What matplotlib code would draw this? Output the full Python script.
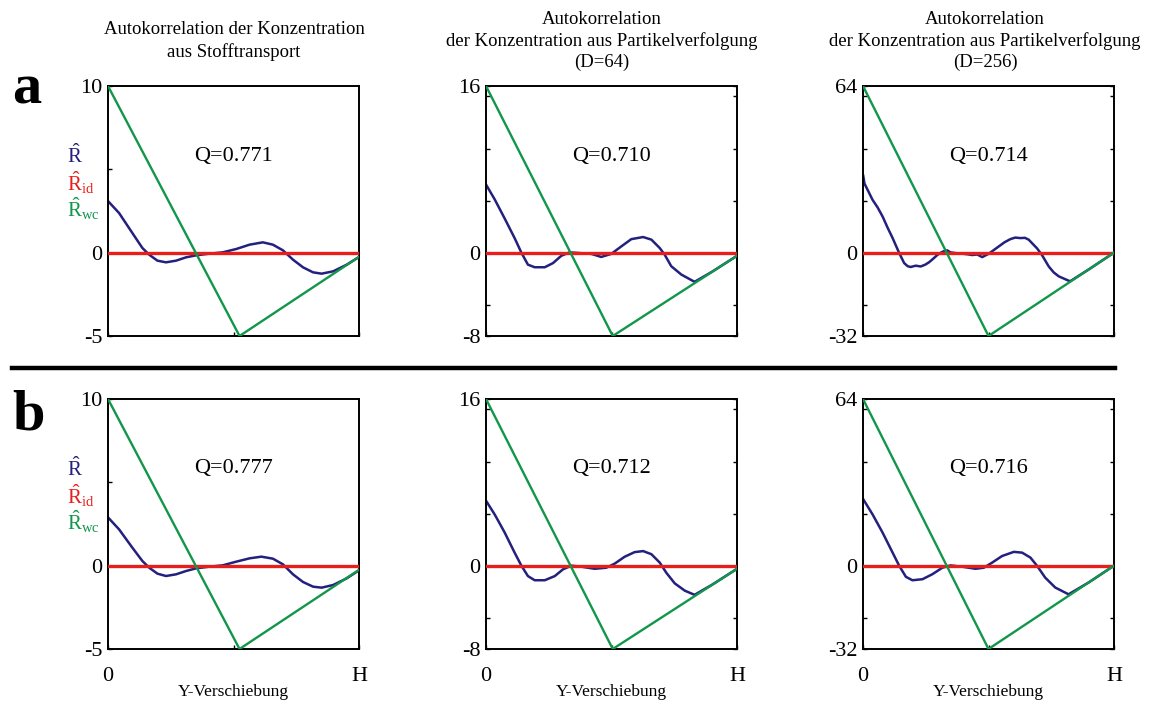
import matplotlib
matplotlib.use("Agg")
import matplotlib.pyplot as plt

plt.rcParams['font.family'] = ['Liberation Serif', 'DejaVu Serif']
plt.rcParams['mathtext.fontset'] = 'custom'
plt.rcParams['mathtext.rm'] = 'Liberation Serif'
plt.rcParams['mathtext.it'] = 'Liberation Serif:italic'

BLUE = '#23207e'
RED = '#e5201c'
GREEN = '#12964a'

titles = ['Autokorrelation der Konzentration\naus Stofftransport',
          'Autokorrelation\nder Konzentration aus Partikelverfolgung\n(D=64)',
          'Autokorrelation\nder Konzentration aus Partikelverfolgung\n(D=256)']
title_x = [234, 602, 985]

# y ranges per column (bottom, top) and the minor tick values
y_lims = [(-5, 10), (-8, 16), (-32, 64)]
y_ticks = [[-5, 0, 5, 10], [-8, -5, 0, 5, 10, 15, 16], [-32, -20, 0, 20, 40, 60, 64]]

q_a = ['Q=0.771', 'Q=0.710', 'Q=0.714']
q_b = ['Q=0.777', 'Q=0.712', 'Q=0.716']

# worst-case line R_wc: start, vertex, end
wc_x = [[0, 0.524, 1.0], [0, 0.505, 1.0], [0, 0.50, 1.0]]
wc_y = [[10, -5, -0.25], [16, -8, -0.3], [64, -32, 0]]

# measured autocorrelation R, row a
ra1_x = [0.001, 0.044, 0.097, 0.137, 0.164, 0.197, 0.231, 0.271, 0.311, 0.351, 0.404, 0.457,
         0.511, 0.564, 0.617, 0.657, 0.697, 0.737, 0.777, 0.817, 0.851, 0.897, 0.951, 1.0]
ra1_y = [3.08, 2.38, 1.18, 0.28, -0.12, -0.48, -0.58, -0.48, -0.28, -0.16, -0.06, 0.02,
         0.22, 0.48, 0.62, 0.48, 0.14, -0.42, -0.88, -1.18, -1.26, -1.12, -0.72, -0.26]

ra2_x = [0.001, 0.035, 0.074, 0.114, 0.141, 0.167, 0.194, 0.234, 0.267, 0.300, 0.333, 0.367,
         0.420, 0.459, 0.499, 0.539, 0.579, 0.626, 0.659, 0.692, 0.712, 0.738, 0.778, 0.831,
         0.9, 1.0]
ra2_y = [6.5, 5.1, 3.3, 1.4, 0.0, -1.15, -1.4, -1.4, -1.0, -0.3, 0.03, -0.03,
         -0.12, -0.41, -0.12, 0.6, 1.3, 1.5, 1.25, 0.45, -0.2, -1.3, -2.1, -2.8,
         -1.84, -0.3]

ra3_x = [0.001, 0.006, 0.02, 0.038, 0.058, 0.078, 0.098, 0.118, 0.144, 0.164, 0.178, 0.190,
         0.21, 0.230, 0.248, 0.263, 0.280, 0.296, 0.310, 0.323, 0.335, 0.349, 0.372, 0.396,
         0.415, 0.435, 0.455, 0.475, 0.501, 0.521, 0.541, 0.564, 0.587, 0.607, 0.627, 0.645,
         0.660, 0.693, 0.713, 0.740, 0.760, 0.780, 0.825, 0.9, 1.0]
ra3_y = [29.5, 26.5, 23.8, 20.3, 17.4, 13.9, 9.6, 5.6, -0.1, -4.0, -5.2, -5.5,
         -5.0, -5.3, -4.6, -3.7, -2.3, -0.9, 0.0, 0.6, 0.9, 0.1, -0.2, -0.4,
         -0.6, -0.9, -0.7, -1.7, -0.4, 1.0, 2.4, 4.0, 5.2, 5.8, 5.6, 5.7,
         5.0, 1.7, -0.9, -5.3, -7.6, -9.1, -11.0, -6.4, 0.0]

# measured autocorrelation R, row b
rb1_x = ra1_x[:14] + [0.611, 0.657, 0.697, 0.737, 0.777, 0.817, 0.851, 0.897, 0.951, 1.0]
rb1_y = [2.88, 2.18, 1.08, 0.28, -0.12, -0.48, -0.62, -0.52, -0.32, -0.16, -0.06, 0.02,
         0.24, 0.44, 0.54, 0.42, 0.08, -0.52, -0.98, -1.26, -1.32, -1.16, -0.76, -0.28]

rb2_x = [0.001, 0.035, 0.074, 0.114, 0.141, 0.167, 0.194, 0.234, 0.274, 0.307, 0.340, 0.380,
         0.433, 0.479, 0.513, 0.552, 0.592, 0.626, 0.659, 0.692, 0.719, 0.752, 0.792, 0.831,
         0.9, 1.0]
rb2_y = [6.2, 4.9, 3.2, 1.25, 0.0, -1.0, -1.4, -1.4, -1.0, -0.35, 0.0, -0.1,
         -0.3, -0.2, 0.2, 0.85, 1.3, 1.4, 1.1, 0.3, -0.7, -1.7, -2.4, -2.8,
         -1.84, -0.3]

rb3_x = [0.001, 0.038, 0.078, 0.118, 0.144, 0.171, 0.197, 0.237, 0.276, 0.316, 0.349, 0.395,
         0.448, 0.481, 0.515, 0.554, 0.601, 0.634, 0.667, 0.693, 0.726, 0.766, 0.819, 0.9, 1.0]
rb3_y = [25.5, 19.7, 12.7, 5.0, 0.0, -4.3, -5.6, -5.2, -3.3, -0.8, 0.1, -0.4,
         -1.2, -0.8, 1.2, 3.7, 5.3, 5.0, 3.1, 0.0, -4.6, -8.4, -11.0, -6.4, 0.0]

rows = [
    [(ra1_x, ra1_y), (ra2_x, ra2_y), (ra3_x, ra3_y)],
    [(rb1_x, rb1_y), (rb2_x, rb2_y), (rb3_x, rb3_y)],
]
q_rows = [q_a, q_b]

W, H = 1151, 706
fig = plt.figure(figsize=(W / 100, H / 100), dpi=100)

col_left = [108, 486, 863]
row_bottom = [336, 649]
ax_w, ax_h = 251, 250

for r in range(2):
    for c in range(3):
        ax = fig.add_axes([col_left[c] / W, 1 - row_bottom[r] / H, ax_w / W, ax_h / H])
        lo, hi = y_lims[c]
        rx, ry = rows[r][c]
        ax.plot(rx, ry, color=BLUE, lw=1.8, zorder=2, solid_joinstyle='round')
        ax.axhline(0, color=RED, lw=2.4, zorder=3)
        ax.plot(wc_x[c], wc_y[c], color=GREEN, lw=1.7, zorder=4)
        ax.set_xlim(0, 1)
        ax.set_ylim(lo, hi)

        ax.set_yticks(y_ticks[c])
        ax.set_yticklabels([str(v) if v in (lo, 0, hi) else '' for v in y_ticks[c]])
        ax.tick_params(axis='y', direction='in', length=3, width=1, pad=4,
                       labelsize=16, right=(c > 0))
        ax.set_xticks([0, 0.5, 1])
        if r == 1:
            ax.set_xticklabels(['0', '', 'H'])
        else:
            ax.set_xticklabels(['', '', ''])
        ax.tick_params(axis='x', direction='in', length=3, width=1, pad=13, labelsize=16)
        for s in ax.spines.values():
            s.set_linewidth(1.4)

        ax.text(0.5, 0.72, q_rows[r][c], transform=ax.transAxes, ha='center', va='center',
                fontsize=16)

        if c == 0:
            ax.text(-0.165, 0.692, r'$\hat{\mathrm{R}}$', transform=ax.transAxes,
                    color=BLUE, fontsize=15, va='baseline')
            ax.text(-0.165, 0.58, r'$\hat{\mathrm{R}}_{\mathrm{id}}$', transform=ax.transAxes,
                    color=RED, fontsize=15, va='baseline')
            ax.text(-0.165, 0.476, r'$\hat{\mathrm{R}}_{\mathrm{wc}}$', transform=ax.transAxes,
                    color=GREEN, fontsize=15, va='baseline')

        if r == 1:
            fig.text((col_left[c] + ax_w / 2) / W, 1 - 692 / H, 'Y-Verschiebung',
                     ha='center', va='center', fontsize=12.5)

for c in range(3):
    fig.text(title_x[c] / W, 1 - 41 / H, titles[c], ha='center', va='center',
             fontsize=13.5, linespacing=1.3)

fig.text(12 / W, 1 - 103 / H, 'a', fontsize=42, fontweight='bold', va='baseline')
fig.text(12 / W, 1 - 430 / H, 'b', fontsize=42, fontweight='bold', va='baseline')

# separator between rows a and b
fig.add_artist(plt.Line2D([12 / W, 1115 / W], [1 - 368 / H, 1 - 368 / H],
                          color='black', lw=3.2))

fig.savefig('out.png', dpi=100)
